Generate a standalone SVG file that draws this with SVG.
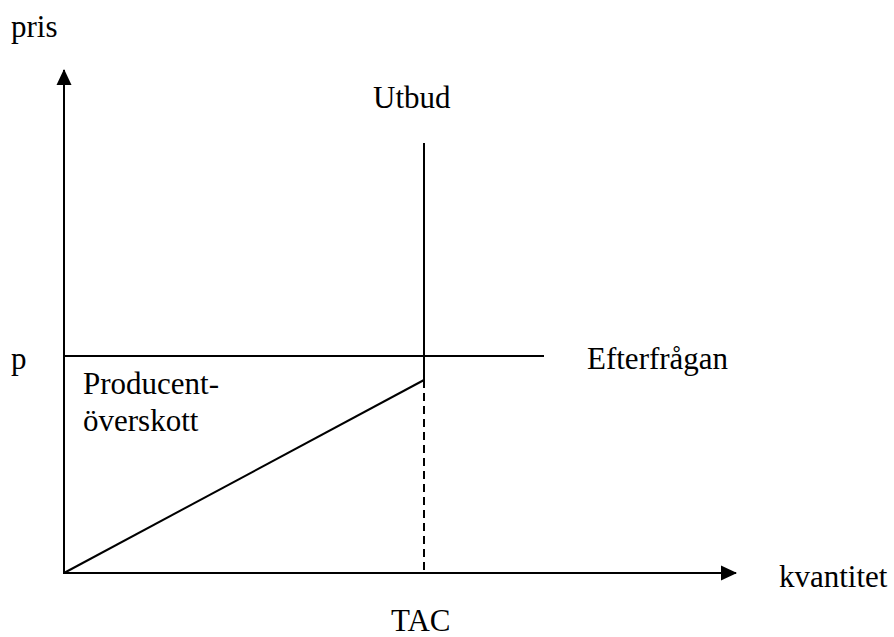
<svg xmlns="http://www.w3.org/2000/svg" width="894" height="637" viewBox="0 0 894 637">
<style>
text{font-family:"Liberation Serif","Times New Roman","DejaVu Serif","Noto Serif",Times,serif;font-size:31px;fill:#000}
.ln{stroke:#000;stroke-width:2;fill:none}
</style>
<defs>
<marker id="ah" markerWidth="16" markerHeight="16" refX="15" refY="8" orient="auto" markerUnits="userSpaceOnUse">
<path d="M0,0.5 L16,8 L0,15.5 Z" fill="#000"/>
</marker>
</defs>
<rect width="894" height="637" fill="#fff"/>
<g id="connectors">
<line class="ln" x1="64" y1="574" x2="64" y2="70" marker-end="url(#ah)"/>
<line class="ln" x1="63" y1="573" x2="736" y2="573" marker-end="url(#ah)"/>
<line class="ln" x1="424" y1="143" x2="424" y2="380"/>
<line class="ln" x1="64" y1="356" x2="544" y2="356"/>
<line class="ln" x1="64" y1="573" x2="424" y2="380"/>
<line class="ln" x1="424" y1="380" x2="424" y2="573" stroke-dasharray="8,5"/>
</g>
<g id="labels">
<text x="11" y="37">pris</text>
<text x="373" y="108">Utbud</text>
<text x="11" y="369">p</text>
<text x="587" y="369">Efterfrågan</text>
<text x="83" y="394">Producent-</text>
<text x="83" y="431">överskott</text>
<text x="779" y="587">kvantitet</text>
<text x="391" y="631">TAC</text>
</g>
</svg>
